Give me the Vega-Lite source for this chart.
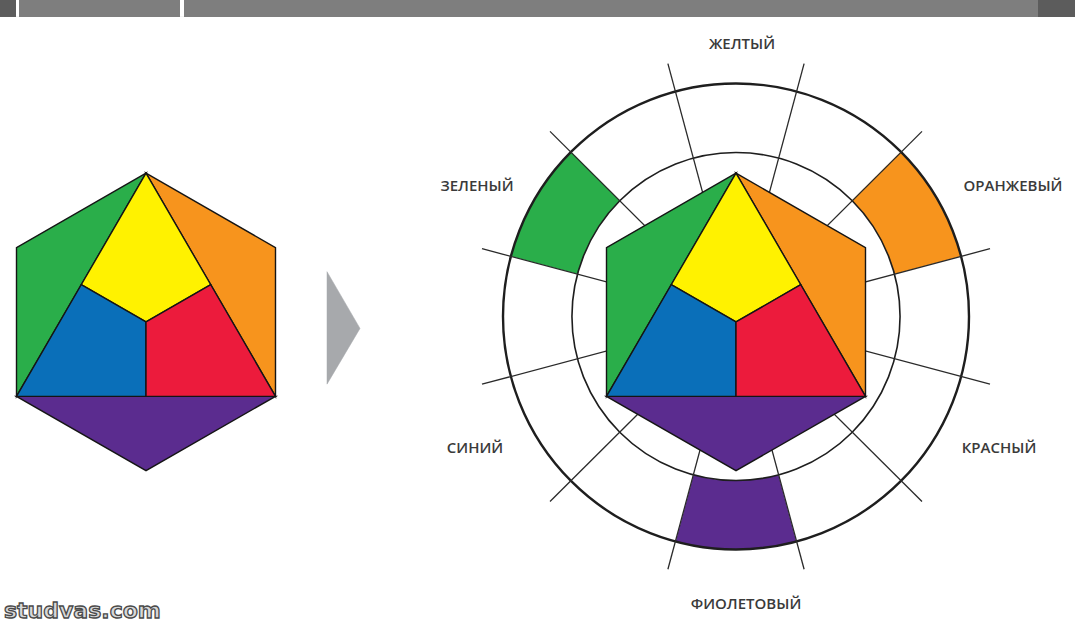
{
  "$schema": "https://vega.github.io/schema/vega-lite/v6.json",
  "width": 1075,
  "height": 622,
  "autosize": {"type": "fit", "contains": "padding"},
  "padding": 0,
  "background": "#ffffff",
  "config": {"view": {"stroke": null}},
  "datasets": {
    "band": [
      {"x1": 0, "x2": 1075, "y1": 0, "y2": 17, "c": "band"},
      {"x1": 0, "x2": 16, "y1": 0, "y2": 17, "c": "banddark"},
      {"x1": 1038, "x2": 1075, "y1": 0, "y2": 17, "c": "banddark"},
      {"x1": 16, "x2": 19, "y1": 0, "y2": 17, "c": "white"},
      {"x1": 180, "x2": 184, "y1": 0, "y2": 17, "c": "white"}
    ],
    "segs": [
      {"c": "green", "cx": 736, "cy": 318, "a1": 285, "a2": 315, "r1": 164, "r2": 233},
      {"c": "orange", "cx": 736, "cy": 318, "a1": 45, "a2": 75, "r1": 164, "r2": 233},
      {"c": "purple", "cx": 736, "cy": 318, "a1": 165, "a2": 195, "r1": 164, "r2": 233}
    ],
    "rings": [
      {"ring": "outer", "cx": 736, "cy": 318, "a1": 0, "a2": 360, "r": 233},
      {"ring": "inner", "cx": 736, "cy": 318, "a1": 0, "a2": 360, "r": 164}
    ],
    "spokes": [
      {"x1": 736, "y1": 318, "x2": 804.1, "y2": 64.0},
      {"x1": 736, "y1": 318, "x2": 922.0, "y2": 132.0},
      {"x1": 736, "y1": 318, "x2": 990.0, "y2": 249.9},
      {"x1": 736, "y1": 318, "x2": 990.0, "y2": 386.1},
      {"x1": 736, "y1": 318, "x2": 922.0, "y2": 504.0},
      {"x1": 736, "y1": 318, "x2": 804.1, "y2": 572.0},
      {"x1": 736, "y1": 318, "x2": 667.9, "y2": 572.0},
      {"x1": 736, "y1": 318, "x2": 550.0, "y2": 504.0},
      {"x1": 736, "y1": 318, "x2": 482.0, "y2": 386.1},
      {"x1": 736, "y1": 318, "x2": 482.0, "y2": 249.9},
      {"x1": 736, "y1": 318, "x2": 550.0, "y2": 132.0},
      {"x1": 736, "y1": 318, "x2": 667.9, "y2": 64.0}
    ],
    "poly": [
      {"shape": "L-green", "c": "green", "i": 0, "x": 146, "y": 174},
      {"shape": "L-green", "c": "green", "i": 1, "x": 16.5, "y": 248.75},
      {"shape": "L-green", "c": "green", "i": 2, "x": 16.5, "y": 398.25},
      {"shape": "L-orange", "c": "orange", "i": 0, "x": 146, "y": 174},
      {"shape": "L-orange", "c": "orange", "i": 1, "x": 275.5, "y": 248.75},
      {"shape": "L-orange", "c": "orange", "i": 2, "x": 275.5, "y": 398.25},
      {"shape": "L-purple", "c": "purple", "i": 0, "x": 16.5, "y": 398.25},
      {"shape": "L-purple", "c": "purple", "i": 1, "x": 275.5, "y": 398.25},
      {"shape": "L-purple", "c": "purple", "i": 2, "x": 146, "y": 473},
      {"shape": "L-yellow", "c": "yellow", "i": 0, "x": 146, "y": 174},
      {"shape": "L-yellow", "c": "yellow", "i": 1, "x": 81.25, "y": 286.1},
      {"shape": "L-yellow", "c": "yellow", "i": 2, "x": 146, "y": 323.5},
      {"shape": "L-yellow", "c": "yellow", "i": 3, "x": 210.75, "y": 286.1},
      {"shape": "L-blue", "c": "blue", "i": 0, "x": 81.25, "y": 286.1},
      {"shape": "L-blue", "c": "blue", "i": 1, "x": 146, "y": 323.5},
      {"shape": "L-blue", "c": "blue", "i": 2, "x": 146, "y": 398.25},
      {"shape": "L-blue", "c": "blue", "i": 3, "x": 16.5, "y": 398.25},
      {"shape": "L-red", "c": "red", "i": 0, "x": 210.75, "y": 286.1},
      {"shape": "L-red", "c": "red", "i": 1, "x": 146, "y": 323.5},
      {"shape": "L-red", "c": "red", "i": 2, "x": 146, "y": 398.25},
      {"shape": "L-red", "c": "red", "i": 3, "x": 275.5, "y": 398.25},
      {"shape": "R-green", "c": "green", "i": 0, "x": 736, "y": 174},
      {"shape": "R-green", "c": "green", "i": 1, "x": 606.5, "y": 248.75},
      {"shape": "R-green", "c": "green", "i": 2, "x": 606.5, "y": 398.25},
      {"shape": "R-orange", "c": "orange", "i": 0, "x": 736, "y": 174},
      {"shape": "R-orange", "c": "orange", "i": 1, "x": 865.5, "y": 248.75},
      {"shape": "R-orange", "c": "orange", "i": 2, "x": 865.5, "y": 398.25},
      {"shape": "R-purple", "c": "purple", "i": 0, "x": 606.5, "y": 398.25},
      {"shape": "R-purple", "c": "purple", "i": 1, "x": 865.5, "y": 398.25},
      {"shape": "R-purple", "c": "purple", "i": 2, "x": 736, "y": 473},
      {"shape": "R-yellow", "c": "yellow", "i": 0, "x": 736, "y": 174},
      {"shape": "R-yellow", "c": "yellow", "i": 1, "x": 671.25, "y": 286.1},
      {"shape": "R-yellow", "c": "yellow", "i": 2, "x": 736, "y": 323.5},
      {"shape": "R-yellow", "c": "yellow", "i": 3, "x": 800.75, "y": 286.1},
      {"shape": "R-blue", "c": "blue", "i": 0, "x": 671.25, "y": 286.1},
      {"shape": "R-blue", "c": "blue", "i": 1, "x": 736, "y": 323.5},
      {"shape": "R-blue", "c": "blue", "i": 2, "x": 736, "y": 398.25},
      {"shape": "R-blue", "c": "blue", "i": 3, "x": 606.5, "y": 398.25},
      {"shape": "R-red", "c": "red", "i": 0, "x": 800.75, "y": 286.1},
      {"shape": "R-red", "c": "red", "i": 1, "x": 736, "y": 323.5},
      {"shape": "R-red", "c": "red", "i": 2, "x": 736, "y": 398.25},
      {"shape": "R-red", "c": "red", "i": 3, "x": 865.5, "y": 398.25}
    ],
    "arrow": [
      {"shape": "arrow", "c": "arrow", "i": 0, "x": 327, "y": 273},
      {"shape": "arrow", "c": "arrow", "i": 1, "x": 360, "y": 330},
      {"shape": "arrow", "c": "arrow", "i": 2, "x": 327, "y": 386}
    ],
    "labels": [
      {"t": "ЖЕЛТЫЙ", "x": 742, "y": 44},
      {"t": "ОРАНЖЕВЫЙ", "x": 1013, "y": 187},
      {"t": "ЗЕЛЕНЫЙ", "x": 477, "y": 187},
      {"t": "СИНИЙ", "x": 475, "y": 450},
      {"t": "КРАСНЫЙ", "x": 999, "y": 450},
      {"t": "ФИОЛЕТОВЫЙ", "x": 746, "y": 607}
    ],
    "mark": [
      {"t": "studvas.com", "x": 4, "y": 621}
    ]
  },
  "layer": [
    {
      "data": {"name": "band"},
      "mark": {"type": "rect"},
      "encoding": {
        "x": {"field": "x1", "type": "quantitative", "scale": {"domain": [0, 1075], "nice": false, "zero": false}, "axis": null},
        "x2": {"field": "x2"},
        "y": {"field": "y1", "type": "quantitative", "scale": {"domain": [0, 622], "nice": false, "zero": false, "reverse": true}, "axis": null},
        "y2": {"field": "y2"},
        "fill": {"field": "c", "type": "nominal", "legend": null,
          "scale": {"domain": ["green", "orange", "purple", "yellow", "blue", "red", "arrow", "band", "banddark", "white"],
                    "range": ["#2aae4a", "#f7941d", "#5b2c8f", "#fff200", "#0a6fb9", "#ec1b3c", "#a7a9ac", "#7e7e7e", "#5c5c5c", "#ffffff"]}}
      }
    },
    {
      "data": {"name": "segs"},
      "mark": {"type": "arc", "stroke": null},
      "encoding": {
        "x": {"field": "cx", "type": "quantitative", "scale": {"domain": [0, 1075], "nice": false, "zero": false}, "axis": null},
        "y": {"field": "cy", "type": "quantitative", "scale": {"domain": [0, 622], "nice": false, "zero": false, "reverse": true}, "axis": null},
        "theta": {"field": "a1", "type": "quantitative", "scale": {"type": "linear", "domain": [0, 360], "range": [0, 6.2832], "zero": false, "nice": false}},
        "theta2": {"field": "a2"},
        "radius": {"field": "r2", "type": "quantitative", "scale": {"type": "linear", "domain": [0, 622], "range": [0, 622], "zero": true, "nice": false}},
        "radius2": {"field": "r1"},
        "fill": {"field": "c", "type": "nominal", "legend": null,
          "scale": {"domain": ["green", "orange", "purple", "yellow", "blue", "red", "arrow", "band", "banddark", "white"],
                    "range": ["#2aae4a", "#f7941d", "#5b2c8f", "#fff200", "#0a6fb9", "#ec1b3c", "#a7a9ac", "#7e7e7e", "#5c5c5c", "#ffffff"]}}
      }
    },
    {
      "data": {"name": "rings"},
      "mark": {"type": "arc", "filled": false, "fill": null, "stroke": "#1e1e1e"},
      "encoding": {
        "x": {"field": "cx", "type": "quantitative", "scale": {"domain": [0, 1075], "nice": false, "zero": false}, "axis": null},
        "y": {"field": "cy", "type": "quantitative", "scale": {"domain": [0, 622], "nice": false, "zero": false, "reverse": true}, "axis": null},
        "theta": {"field": "a1", "type": "quantitative", "scale": {"type": "linear", "domain": [0, 360], "range": [0, 6.2832], "zero": false, "nice": false}},
        "theta2": {"field": "a2"},
        "radius": {"field": "r", "type": "quantitative", "scale": {"type": "linear", "domain": [0, 622], "range": [0, 622], "zero": true, "nice": false}},
        "strokeWidth": {"field": "ring", "type": "nominal", "legend": null, "scale": {"domain": ["outer", "inner"], "range": [2.4, 1.6]}}
      }
    },
    {
      "data": {"name": "spokes"},
      "mark": {"type": "rule", "stroke": "#2a2a2a", "strokeWidth": 1.3},
      "encoding": {
        "x": {"field": "x1", "type": "quantitative", "scale": {"domain": [0, 1075], "nice": false, "zero": false}, "axis": null},
        "y": {"field": "y1", "type": "quantitative", "scale": {"domain": [0, 622], "nice": false, "zero": false, "reverse": true}, "axis": null},
        "x2": {"field": "x2"},
        "y2": {"field": "y2"}
      }
    },
    {
      "data": {"name": "poly"},
      "mark": {"type": "line", "interpolate": "linear-closed", "stroke": "#151515", "strokeWidth": 1.4, "strokeJoin": "miter"},
      "encoding": {
        "x": {"field": "x", "type": "quantitative", "scale": {"domain": [0, 1075], "nice": false, "zero": false}, "axis": null},
        "y": {"field": "y", "type": "quantitative", "scale": {"domain": [0, 622], "nice": false, "zero": false, "reverse": true}, "axis": null},
        "order": {"field": "i", "type": "quantitative"},
        "detail": {"field": "shape", "type": "nominal"},
        "fill": {"field": "c", "type": "nominal", "legend": null,
          "scale": {"domain": ["green", "orange", "purple", "yellow", "blue", "red", "arrow", "band", "banddark", "white"],
                    "range": ["#2aae4a", "#f7941d", "#5b2c8f", "#fff200", "#0a6fb9", "#ec1b3c", "#a7a9ac", "#7e7e7e", "#5c5c5c", "#ffffff"]}}
      }
    },
    {
      "data": {"name": "arrow"},
      "mark": {"type": "line", "interpolate": "linear-closed", "stroke": "#a7a9ac", "strokeWidth": 0.5},
      "encoding": {
        "x": {"field": "x", "type": "quantitative", "scale": {"domain": [0, 1075], "nice": false, "zero": false}, "axis": null},
        "y": {"field": "y", "type": "quantitative", "scale": {"domain": [0, 622], "nice": false, "zero": false, "reverse": true}, "axis": null},
        "order": {"field": "i", "type": "quantitative"},
        "detail": {"field": "shape", "type": "nominal"},
        "fill": {"field": "c", "type": "nominal", "legend": null,
          "scale": {"domain": ["green", "orange", "purple", "yellow", "blue", "red", "arrow", "band", "banddark", "white"],
                    "range": ["#2aae4a", "#f7941d", "#5b2c8f", "#fff200", "#0a6fb9", "#ec1b3c", "#a7a9ac", "#7e7e7e", "#5c5c5c", "#ffffff"]}}
      }
    },
    {
      "data": {"name": "labels"},
      "mark": {"type": "text", "font": "Open Sans", "fontWeight": 600, "fontSize": 15, "fill": "#3a3a3a", "align": "center", "baseline": "middle"},
      "encoding": {
        "x": {"field": "x", "type": "quantitative", "scale": {"domain": [0, 1075], "nice": false, "zero": false}, "axis": null},
        "y": {"field": "y", "type": "quantitative", "scale": {"domain": [0, 622], "nice": false, "zero": false, "reverse": true}, "axis": null},
        "text": {"field": "t"}
      }
    },
    {
      "data": {"name": "mark"},
      "mark": {"type": "text", "font": "DejaVu Sans", "fontWeight": "bold", "fontSize": 22, "fill": "#d8d8d8", "stroke": "#4a4a4a", "strokeWidth": 1.3, "align": "left", "baseline": "alphabetic"},
      "encoding": {
        "x": {"field": "x", "type": "quantitative", "scale": {"domain": [0, 1075], "nice": false, "zero": false}, "axis": null},
        "y": {"field": "y", "type": "quantitative", "scale": {"domain": [0, 622], "nice": false, "zero": false, "reverse": true}, "axis": null},
        "text": {"field": "t"}
      }
    }
  ]
}
